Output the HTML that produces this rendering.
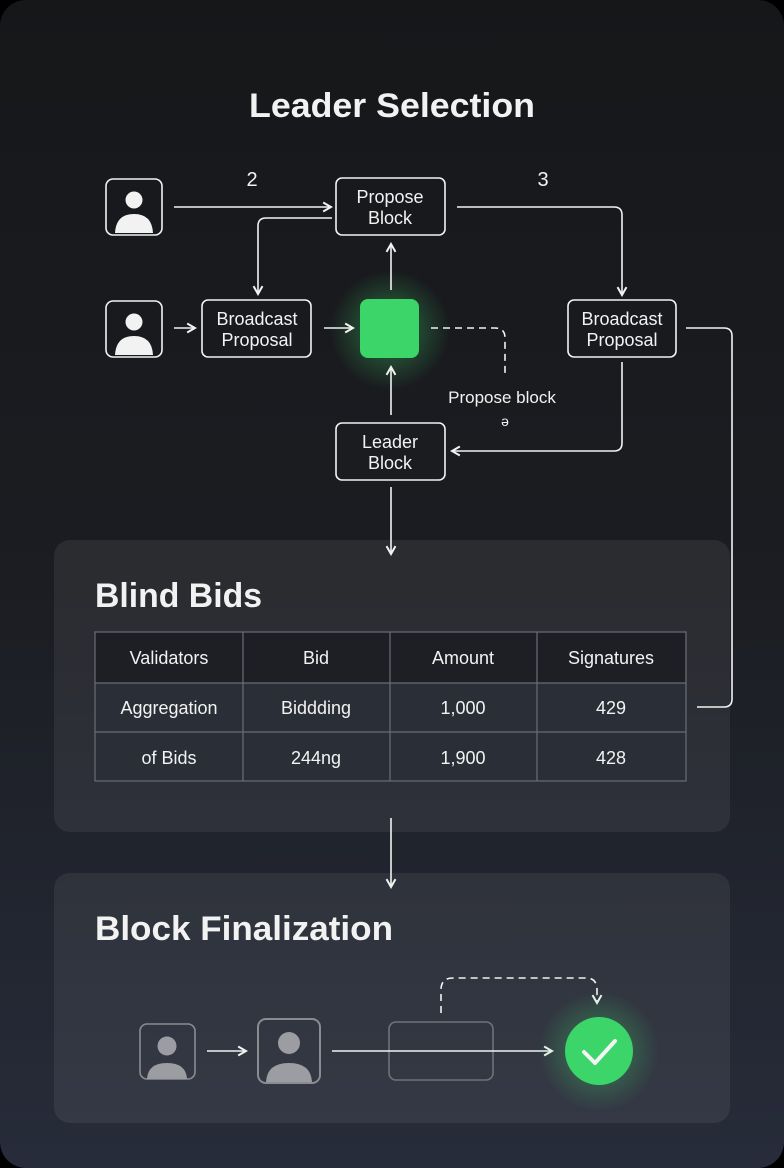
<!DOCTYPE html>
<html><head><meta charset="utf-8"><style>
html,body{margin:0;padding:0;background:#000;}
body{width:784px;height:1168px;overflow:hidden;}
svg{display:block;}
text{font-family:"Liberation Sans",sans-serif;fill:#f2f2f2;}
</style></head><body>
<svg width="784" height="1168" viewBox="0 0 784 1168" xmlns="http://www.w3.org/2000/svg">
<defs>
<linearGradient id="bg" x1="0" y1="0" x2="0" y2="1">
<stop offset="0" stop-color="#161719"/><stop offset="0.5" stop-color="#1b1d22"/><stop offset="1" stop-color="#272c3a"/>
</linearGradient>
<radialGradient id="glow"><stop offset="0" stop-color="#3fdc6a" stop-opacity="0.45"/><stop offset="1" stop-color="#3fdc6a" stop-opacity="0"/></radialGradient>
<marker id="ar" viewBox="0 0 10 10" refX="8" refY="5" markerWidth="7" markerHeight="7" orient="auto-start-reverse"><path d="M1 1 L8 5 L1 9" fill="none" stroke="#f2f2f2" stroke-width="1.8"/></marker>
</defs>
<rect x="0" y="0" width="784" height="1168" rx="26" fill="url(#bg)"/>
<text x="392" y="117" font-size="34" text-anchor="middle" font-weight="bold" textLength="286" lengthAdjust="spacingAndGlyphs">Leader Selection</text>

<g fill="none" stroke="#f2f2f2" stroke-width="1.6">
<rect x="106" y="179" width="56" height="56" rx="7"/>
<rect x="106" y="301" width="56" height="56" rx="7"/>
<rect x="336" y="178" width="109" height="57" rx="6"/>
<rect x="202" y="300" width="109" height="57" rx="6"/>
<rect x="568" y="300" width="108" height="57" rx="6"/>
<rect x="336" y="423" width="109" height="57" rx="6"/>
</g>
<g fill="#f2f2f2">
<circle cx="134" cy="200" r="8.5"/><path d="M115 233 Q116 214 134 214 Q152 214 153 233 Z"/>
<circle cx="134" cy="322" r="8.5"/><path d="M115 355 Q116 336 134 336 Q152 336 153 355 Z"/>
</g>
<circle cx="390" cy="330" r="60" fill="url(#glow)"/>
<rect x="360" y="299" width="59" height="59" rx="8" fill="#3bd56a"/>

<g font-size="18" text-anchor="middle">
<text x="390" y="203">Propose</text><text x="390" y="224">Block</text>
<text x="257" y="325">Broadcast</text><text x="257" y="346">Proposal</text>
<text x="622" y="325">Broadcast</text><text x="622" y="346">Proposal</text>
<text x="390" y="448">Leader</text><text x="390" y="469">Block</text>
<text x="252" y="186" font-size="20">2</text><text x="543" y="186" font-size="20">3</text>
<text x="502" y="403" font-size="17">Propose block</text><text x="505" y="426" font-size="14">ə</text>
</g>

<g fill="none" stroke="#f2f2f2" stroke-width="1.6">
<path d="M174 207 H331" marker-end="url(#ar)"/>
<path d="M332 218 H266 Q258 218 258 226 V294" marker-end="url(#ar)"/>
<path d="M174 328 H195" marker-end="url(#ar)"/>
<path d="M324 328 H353" marker-end="url(#ar)"/>
<path d="M391 290 V244" marker-end="url(#ar)"/>
<path d="M391 415 V367" marker-end="url(#ar)"/>
<path d="M431 328 H495 Q505 328 505 338 V375" stroke-dasharray="7 5"/>
<path d="M457 207 H614 Q622 207 622 215 V295" marker-end="url(#ar)"/>
<path d="M622 362 V443 Q622 451 614 451 H452" marker-end="url(#ar)"/>
<path d="M686 328 H724 Q732 328 732 336 V699 Q732 707 724 707 H697"/>
<path d="M391 487 V554" marker-end="url(#ar)"/>
</g>

<rect x="54" y="540" width="676" height="292" rx="16" fill="#ffffff" fill-opacity="0.065"/>
<text x="95" y="607" font-size="34" font-weight="bold" textLength="167" lengthAdjust="spacingAndGlyphs">Blind Bids</text>
<rect x="95" y="632" width="591" height="51" fill="#1d1f25"/>
<rect x="95" y="683" width="591" height="98" fill="#2a2e37"/>
<g fill="none" stroke="#6a6d75" stroke-width="1.2">
<rect x="95" y="632" width="591" height="149"/>
<path d="M95 683 H686 M95 732 H686 M243 632 V781 M390 632 V781 M537 632 V781"/>
</g>
<g font-size="18" text-anchor="middle">
<text x="169" y="664">Validators</text><text x="316" y="664">Bid</text><text x="463" y="664">Amount</text><text x="611" y="664">Signatures</text>
<text x="169" y="714">Aggregation</text><text x="316" y="714">Biddding</text><text x="463" y="714">1,000</text><text x="611" y="714">429</text>
<text x="169" y="764">of Bids</text><text x="316" y="764">244ng</text><text x="463" y="764">1,900</text><text x="611" y="764">428</text>
</g>
<path d="M391 818 V887" stroke="#f2f2f2" stroke-width="1.6" fill="none" marker-end="url(#ar)"/>

<rect x="54" y="873" width="676" height="250" rx="16" fill="#ffffff" fill-opacity="0.065"/>
<text x="95" y="940" font-size="34" font-weight="bold" textLength="298" lengthAdjust="spacingAndGlyphs">Block Finalization</text>
<g fill="none" stroke="#8a8c92" stroke-width="1.6">
<rect x="140" y="1024" width="55" height="55" rx="7"/>
<rect x="258" y="1019" width="62" height="64" rx="8" stroke-width="2"/>
<rect x="389" y="1022" width="104" height="58" rx="7" stroke="#6f727a"/>
</g>
<g fill="#9b9da2">
<circle cx="167" cy="1046" r="9.5"/><path d="M147 1079 Q148 1063 167 1063 Q186 1063 187 1079 Z"/>
<circle cx="289" cy="1043" r="11"/><path d="M266 1082 Q267 1063 289 1063 Q311 1063 312 1082 Z"/>
</g>
<g fill="none" stroke="#f2f2f2" stroke-width="1.6">
<path d="M207 1051 H246" marker-end="url(#ar)"/>
<path d="M332 1051 H552" marker-end="url(#ar)"/>
<path d="M441 1013 V990 Q441 978 453 978 H586 Q597 978 597 990 V1003" stroke-dasharray="7 5" marker-end="url(#ar)"/>
</g>
<circle cx="599" cy="1051" r="60" fill="url(#glow)"/>
<circle cx="599" cy="1051" r="34" fill="#3bd56a"/>
<path d="M584 1052 L595 1063 L615 1041" fill="none" stroke="#f4f4f4" stroke-width="4" stroke-linecap="round" stroke-linejoin="round"/>
</svg>
</body></html>
